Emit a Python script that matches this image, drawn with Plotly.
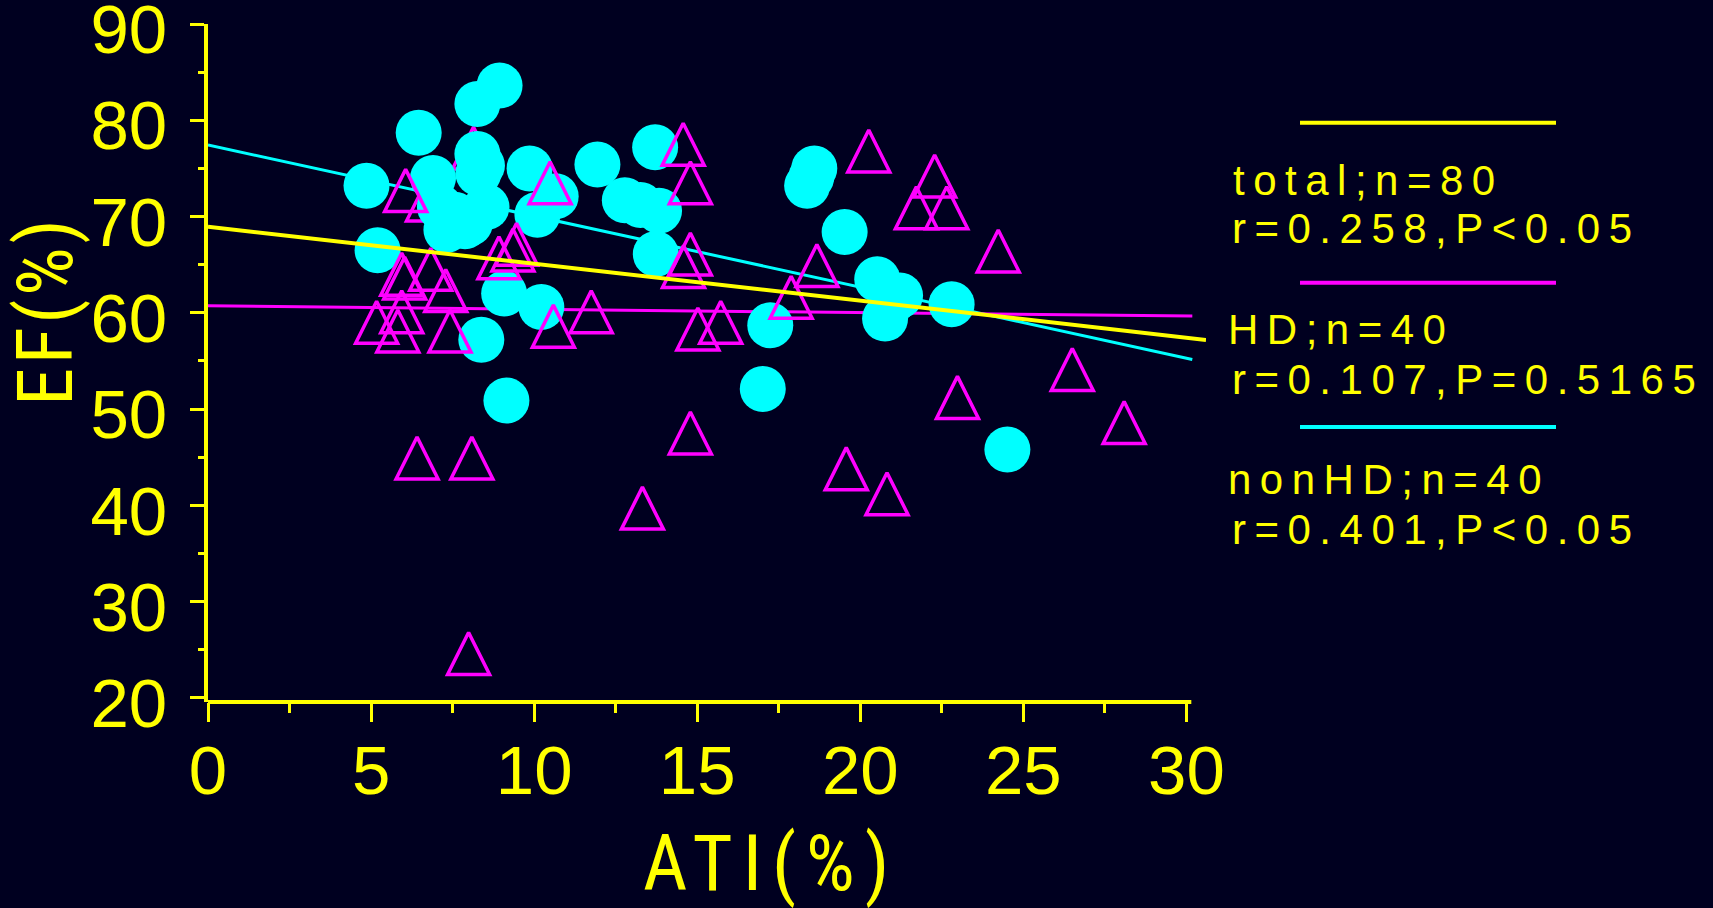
import plotly.graph_objects as go

# ---- data -------------------------------------------------------------
# nonHD group: ATI (%) vs EF (%)
nonhd_ati = [8.94, 8.26, 6.46, 8.26, 9.86, 11.94, 4.86, 6.90, 8.29, 10.66,
             10.10, 12.78, 5.20, 9.08, 10.22, 8.38, 13.71, 13.83, 13.73, 18.59,
             18.37, 19.52, 20.52, 21.22, 20.76, 22.80, 17.24, 17.01, 9.15, 24.51,
             8.54, 8.03, 7.31, 7.11, 7.88, 7.57, 21.02, 13.26, 8.40, 18.50]
nonhd_ef = [83.6, 81.7, 78.7, 76.5, 75.0, 75.4, 73.2, 74.0, 74.5, 72.1,
            70.2, 71.7, 66.5, 62.0, 60.6, 57.2, 77.2, 70.6, 66.1, 75.0,
            73.2, 68.4, 63.5, 61.8, 59.4, 60.9, 58.7, 52.1, 50.9, 45.8,
            71.0, 69.3, 68.6, 71.0, 69.0, 70.2, 61.3, 71.2, 75.3, 74.1]

# HD group: two points that sit beneath the nonHD circles, then the rest
hd_ati_back = [6.73, 8.14]
hd_ef_back = [73.9, 79.3]
hd_ati = [6.06, 10.49, 5.94, 6.03, 6.83, 7.29, 5.94, 5.17, 5.82, 7.42,
          8.92, 9.46, 9.35, 10.59, 11.75, 6.41, 8.09, 7.99, 13.32, 14.57,
          14.79, 14.79, 14.58, 15.02, 15.72, 14.79, 17.88, 18.67, 20.26, 22.28,
          21.72, 22.65, 24.23, 26.50, 28.09, 22.98, 19.57, 20.82]
hd_ef = [74.9, 75.7, 66.2, 65.8, 66.7, 64.5, 62.3, 61.2, 60.3, 60.3,
         67.9, 69.3, 68.7, 60.8, 62.3, 47.1, 47.1, 26.8, 41.9, 79.7,
         75.7, 68.3, 67.0, 60.5, 61.2, 49.7, 63.8, 67.1, 79.0, 76.4,
         73.1, 73.1, 68.6, 56.3, 50.8, 53.4, 46.0, 43.4]

# regression lines (end points)
total_fit_x = [0, 30.6]
total_fit_y = [68.94, 57.19]
hd_fit_x = [0, 30.18]
hd_fit_y = [60.73, 59.66]
nonhd_fit_x = [0, 30.18]
nonhd_fit_y = [77.43, 55.16]

x_ticks = [0, 5, 10, 15, 20, 25, 30]
x_minor = [2.5, 7.5, 12.5, 17.5, 22.5, 27.5]
y_ticks = [20, 30, 40, 50, 60, 70, 80, 90]
y_minor = [25, 35, 45, 55, 65, 75, 85]

legend_lines = ["total;n=80", "r=0.258,P<0.05",
                "HD;n=40", "r=0.107,P=0.5165",
                "nonHD;n=40", "r=0.401,P<0.05"]

# ---- style ------------------------------------------------------------
BG = "#000020"
YELLOW = "#FFFF00"
CYAN = "#00FFFF"
MAGENTA = "#FF00FF"
SANS = "Liberation Sans, Arial, sans-serif"
TITLE = "Roboto, Liberation Sans, Arial, sans-serif"

W, H = 1713, 908
L, R, T, B = 208, 507, 24, 206
PW, PH = W - L - R, H - T - B


def fx(px):
    return (px - L) / PW


def fy(py):
    return (H - B - py) / PH


def spaced(text, px, stretch=None):
    style = f"letter-spacing:{px}px"
    if stretch:
        style += f";font-stretch:{stretch}"
    return f'<span style="{style}">{text}</span>'


fig = go.Figure()

fig.add_trace(go.Scatter(x=nonhd_fit_x, y=nonhd_fit_y, mode="lines",
                         line=dict(color=CYAN, width=3), hoverinfo="skip"))
fig.add_trace(go.Scatter(x=hd_fit_x, y=hd_fit_y, mode="lines",
                         line=dict(color=MAGENTA, width=3), hoverinfo="skip"))

tri = dict(symbol="arrow-up-open", size=42, color=MAGENTA,
           line=dict(color=MAGENTA, width=3.5))
fig.add_trace(go.Scatter(x=hd_ati_back, y=hd_ef_back, mode="markers",
                         marker=tri, name="HD"))
fig.add_trace(go.Scatter(x=nonhd_ati, y=nonhd_ef, mode="markers",
                         marker=dict(symbol="circle", size=46, color=CYAN,
                                     line=dict(width=0)),
                         name="nonHD"))
fig.add_trace(go.Scatter(x=hd_ati, y=hd_ef, mode="markers",
                         marker=tri, name="HD"))
fig.add_trace(go.Scatter(x=total_fit_x, y=total_fit_y, mode="lines",
                         line=dict(color=YELLOW, width=4), hoverinfo="skip"))

fig.update_layout(
    width=W, height=H,
    margin=dict(l=L, r=R, t=T, b=B, autoexpand=False),
    paper_bgcolor=BG, plot_bgcolor=BG,
    showlegend=False,
    xaxis=dict(range=[0, 30.6], showgrid=False, zeroline=False,
               showline=False, tickvals=x_ticks,
               ticktext=[str(v) for v in x_ticks],
               ticks="outside", ticklen=19, tickwidth=3, tickcolor=YELLOW,
               ticklabelstandoff=-11, ticklabeloverflow="allow",
               tickfont=dict(family=SANS, size=69, color=YELLOW),
               minor=dict(tickvals=x_minor, ticks="outside", ticklen=10,
                          tickwidth=3, tickcolor=YELLOW)),
    yaxis=dict(range=[19.58, 90], showgrid=False, zeroline=False,
               showline=True, linecolor=YELLOW, linewidth=4,
               tickvals=y_ticks, ticktext=[str(v) for v in y_ticks],
               ticks="outside", ticklen=14, tickwidth=3, tickcolor=YELLOW,
               ticklabelstandoff=9, ticklabelshift=5,
               ticklabeloverflow="allow",
               tickfont=dict(family=SANS, size=69, color=YELLOW),
               minor=dict(tickvals=y_minor, ticks="outside", ticklen=6,
                          tickwidth=3, tickcolor=YELLOW)),
)

# x axis line, stopping at the last tick
fig.add_shape(type="line", xref="x", yref="paper", x0=0, x1=30.15, y0=0, y1=0,
              line=dict(color=YELLOW, width=4), layer="above")

# axis titles (condensed face, tracked out)
fig.add_annotation(text=spaced("ATI(%)", 10, "75%"), xref="paper", yref="paper",
                   x=fx(641), y=fy(864), xanchor="left", yanchor="middle",
                   showarrow=False, font=dict(family=TITLE, size=77, color=YELLOW))
fig.add_annotation(text=spaced("EF(%)", 3.5, "75%"), xref="paper", yref="paper",
                   x=fx(46), y=fy(311), xanchor="center", yanchor="middle",
                   textangle=-90, showarrow=False,
                   font=dict(family=TITLE, size=77, color=YELLOW))

# key: coloured rules with fit statistics beneath
for color, py in [(YELLOW, 122.7), (MAGENTA, 282.7), (CYAN, 427)]:
    fig.add_shape(type="line", xref="paper", yref="paper",
                  x0=fx(1300), x1=fx(1556), y0=fy(py), y1=fy(py),
                  line=dict(color=color, width=4))

text_left = [1231, 1230, 1226, 1230, 1226, 1230]
text_mid = [180, 228, 329.5, 379, 479, 529]
for txt, lx, my in zip(legend_lines, text_left, text_mid):
    fig.add_annotation(text=spaced(txt, 8.5), xref="paper", yref="paper",
                       x=fx(lx), y=fy(my), xanchor="left", yanchor="middle",
                       showarrow=False,
                       font=dict(family=SANS, size=42, color=YELLOW))

fig.write_html("out.html")
